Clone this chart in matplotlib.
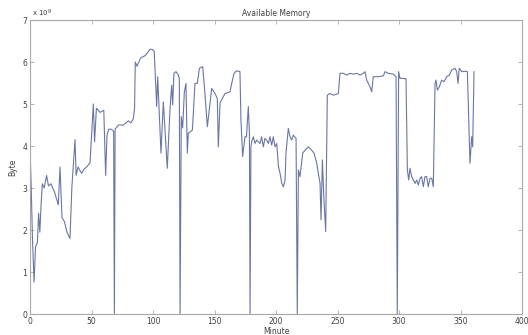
import numpy as np
import matplotlib.pyplot as plt

# minute vs available memory (units of 1e9 byte)
minute = [0, 1, 2, 3.3, 4.5, 6, 7, 8, 9, 10, 11.5, 13.5, 15, 17, 20, 23, 24.4, 26, 28, 30,
          32.5, 34, 36.6, 37.5, 39, 42, 44, 46, 48.8, 51.5, 52.5, 54, 57, 60, 61.5, 62.6,
          64, 66, 68, 68.6, 69.2, 72, 76, 80, 82, 84, 85, 85.6, 87, 90, 93.5, 95, 97.5,
          99.4, 101, 103, 103.8, 106.5, 108.4, 111.6, 113.8, 115.2, 116, 117, 118.7,
          120.6, 121.4, 122, 123, 124.1, 125.5, 126.8, 127.9, 128.7, 132, 132.8, 134.1,
          136, 137.7, 140.4, 141.8, 144.2, 146.3, 147.7, 150.4, 152.3, 153.1, 154.5,
          155.8, 158.5, 162.6, 164, 165.9, 168, 170.7, 171.5, 172.9, 174.8, 176, 177.5,
          178.4, 178.9, 179.6, 180.2, 181.6, 182.9, 184.3, 187, 188.3, 189.7, 191,
          192.4, 193.8, 195.1, 196.5, 197.8, 199.2, 200.6, 202, 203.3, 204.7, 206,
          207.4, 208.1, 210, 211.4, 212.7, 214.1, 216.3, 217.3, 218.2, 219.5, 221.7,
          223.6, 226.3, 229, 230.9, 233.1, 234.4, 235.8, 236.6, 237.7, 239, 240.4,
          241.7, 243.9, 246.6, 250.7, 252, 254.7, 257.5, 260.2, 262.9, 265.6, 268.3,
          271, 272.4, 273.7, 276.4, 277.8, 279.1, 283.2, 287.3, 288.6, 291.3, 295.4,
          297.6, 298.6, 299.7, 300.8, 303.5, 305.7, 306.8, 307.9, 308.9, 310.3, 311.7,
          313, 314.4, 315.7, 317.1, 318.4, 319.8, 321.1, 322.5, 323.8, 325.2, 326.6,
          327.9, 329.3, 330.1, 331.2, 332.8, 334.7, 336.6, 338.8, 341, 342.8, 345.5,
          346.9, 348, 349, 351, 353.7, 355.6, 357.2, 357.7, 359.1, 359.9, 361]
memory = [3.98, 3.0, 1.8, 0.76, 1.6, 1.7, 2.4, 1.95, 2.6, 3.1, 3.0, 3.3, 3.05, 3.1, 2.9, 2.6,
          3.5, 2.3, 2.2, 1.95, 1.8, 3.0, 4.15, 3.3, 3.5, 3.35, 3.45, 3.5, 3.6, 5.0, 4.1,
          4.9, 4.8, 4.85, 3.3, 4.26, 4.4, 4.4, 4.35, 0.0, 4.4, 4.5, 4.5, 4.6, 4.55, 4.65,
          4.9, 6.0, 5.9, 6.1, 6.15, 6.2, 6.3, 6.3, 6.25, 4.94, 5.65, 3.83, 5.05, 3.47,
          4.86, 5.45, 4.98, 5.73, 5.77, 5.69, 5.6, 0.0, 4.7, 4.43, 5.29, 5.49, 3.83, 4.3,
          4.38, 4.78, 5.49, 5.49, 5.85, 5.89, 5.41, 4.46, 5.02, 5.37, 5.25, 5.13, 3.98,
          5.02, 5.1, 5.25, 5.29, 5.49, 5.73, 5.79, 5.77, 4.62, 3.75, 4.22, 4.22, 4.94,
          4.3, 0.0, 3.98, 4.1, 4.22, 4.06, 4.14, 4.06, 4.22, 3.98, 4.18, 4.14, 4.06,
          4.22, 4.02, 4.22, 3.98, 4.06, 3.51, 3.35, 3.11, 3.03, 3.19, 3.83, 4.42, 4.22,
          4.14, 4.26, 4.18, 0.0, 3.43, 3.27, 3.83, 3.9, 3.98, 3.9, 3.83, 3.59, 3.35,
          3.11, 2.24, 3.67, 2.71, 1.96, 5.21, 5.25, 5.21, 5.25, 5.73, 5.73, 5.69, 5.73,
          5.71, 5.73, 5.69, 5.73, 5.77, 5.57, 5.41, 5.29, 5.65, 5.65, 5.67, 5.77, 5.73,
          5.71, 5.65, 0.0, 5.77, 5.61, 5.61, 5.6, 3.43, 3.19, 3.47, 3.27, 3.19, 3.11,
          3.19, 3.07, 3.23, 3.27, 3.03, 3.27, 3.27, 3.03, 3.23, 3.23, 3.03, 5.49, 5.57,
          5.33, 5.41, 5.57, 5.53, 5.65, 5.69, 5.81, 5.85, 5.77, 5.49, 5.85, 5.77, 5.78,
          5.77, 4.14, 3.59, 4.22, 3.98, 5.77]

xticks = [0, 50, 100, 150, 200, 250, 300, 350, 400]
yticks = [0, 1, 2, 3, 4, 5, 6, 7]

frame = '#a8a8a8'
txt = '#404040'

fig = plt.figure(figsize=(5.28, 3.35), dpi=100)
ax = fig.add_axes([30/528, 1-314/335, 492/528, 294/335])
ax.plot(minute, memory, color='#6a76a6', lw=0.8)
ax.set_xlim(0, 400)
ax.set_ylim(0, 7)
ax.set_xticks(xticks)
ax.set_yticks(yticks)
ax.tick_params(direction='in', length=3, width=0.6, color=frame, labelcolor=txt,
               labelsize=5.5, pad=2, top=True, right=True)
for s in ax.spines.values():
    s.set_color(frame)
    s.set_linewidth(0.8)

ax.set_title('Available Memory', fontsize=5.5, color=txt, pad=3)
ax.set_xlabel('Minute', fontsize=5.5, color=txt, labelpad=1)
ax.set_ylabel('Byte', fontsize=5.5, color=txt, labelpad=4)
ax.text(0.005, 1.005, r'x 10$^9$', transform=ax.transAxes, fontsize=5, color=txt,
        va='bottom', ha='left')

fig.savefig('out.png', dpi=100)
